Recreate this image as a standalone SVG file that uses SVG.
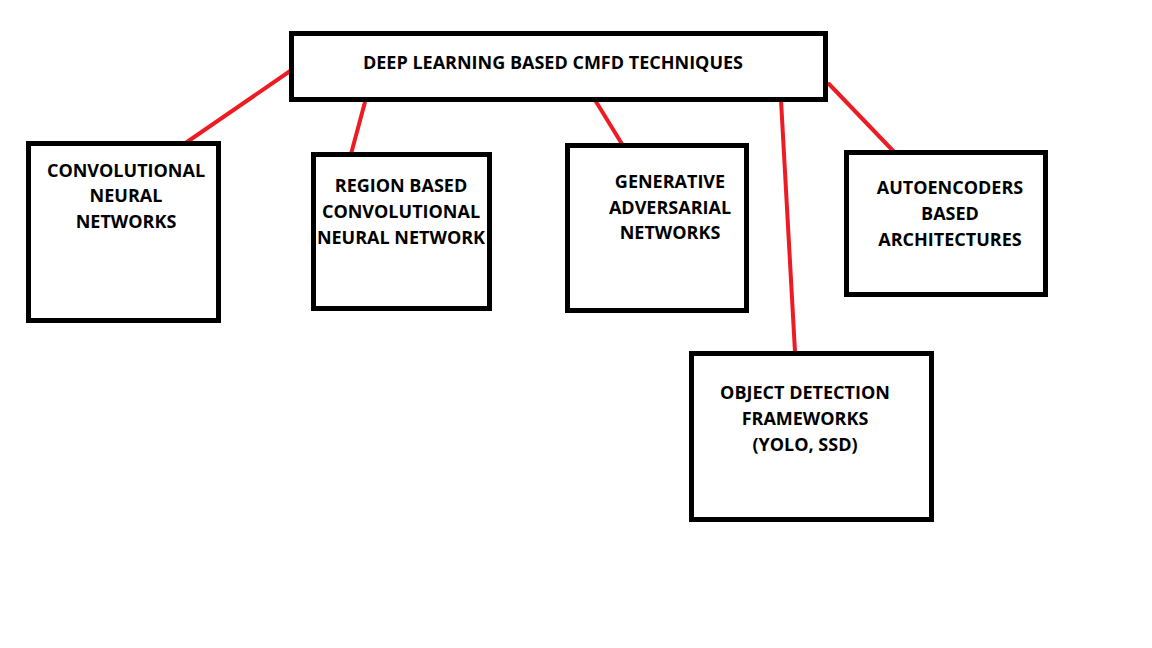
<svg xmlns="http://www.w3.org/2000/svg" width="1152" height="648" viewBox="0 0 1152 648">
<style>
.box{fill:#fff;stroke:#000;stroke-width:5}
.t{font-family:"Open Sans","Liberation Sans",sans-serif;font-weight:700;font-size:18px;fill:#000;text-anchor:middle}
.c{stroke:#ed1c24;stroke-width:4;stroke-linecap:round;fill:none}
</style>
<rect width="1152" height="648" fill="#fff"/>
<g id="connectors">
<line class="c" x1="293" y1="69" x2="187" y2="142"/>
<line class="c" x1="365" y1="102" x2="351" y2="154"/>
<line class="c" x1="595" y1="100" x2="622" y2="144"/>
<line class="c" x1="781" y1="100" x2="795" y2="352"/>
<line class="c" x1="829" y1="84" x2="898" y2="156"/>
</g>
<g id="root">
<rect class="box" x="291.5" y="33.5" width="534" height="66"/>
<text class="t" x="553" y="69">DEEP LEARNING BASED CMFD TECHNIQUES</text>
</g>
<g id="cnn">
<rect class="box" x="28.5" y="143.5" width="190" height="177"/>
<text class="t" x="126" y="177">CONVOLUTIONAL</text>
<text class="t" x="126" y="202">NEURAL</text>
<text class="t" x="126" y="228">NETWORKS</text>
</g>
<g id="rcnn">
<rect class="box" x="313.5" y="154.5" width="176" height="154"/>
<text class="t" x="401" y="192">REGION BASED</text>
<text class="t" x="401" y="218">CONVOLUTIONAL</text>
<text class="t" x="401" y="244">NEURAL NETWORK</text>
</g>
<g id="gan">
<rect class="box" x="567.5" y="145.5" width="179" height="165"/>
<text class="t" x="670" y="188">GENERATIVE</text>
<text class="t" x="670" y="214">ADVERSARIAL</text>
<text class="t" x="670" y="239">NETWORKS</text>
</g>
<g id="ae">
<rect class="box" x="846.5" y="152.5" width="199" height="142"/>
<text class="t" x="950" y="194">AUTOENCODERS</text>
<text class="t" x="950" y="220">BASED</text>
<text class="t" x="950" y="246">ARCHITECTURES</text>
</g>
<g id="od">
<rect class="box" x="691.5" y="353.5" width="240" height="166"/>
<text class="t" x="805" y="399">OBJECT DETECTION</text>
<text class="t" x="805" y="425">FRAMEWORKS</text>
<text class="t" x="805" y="451">(YOLO, SSD)</text>
</g>
</svg>
